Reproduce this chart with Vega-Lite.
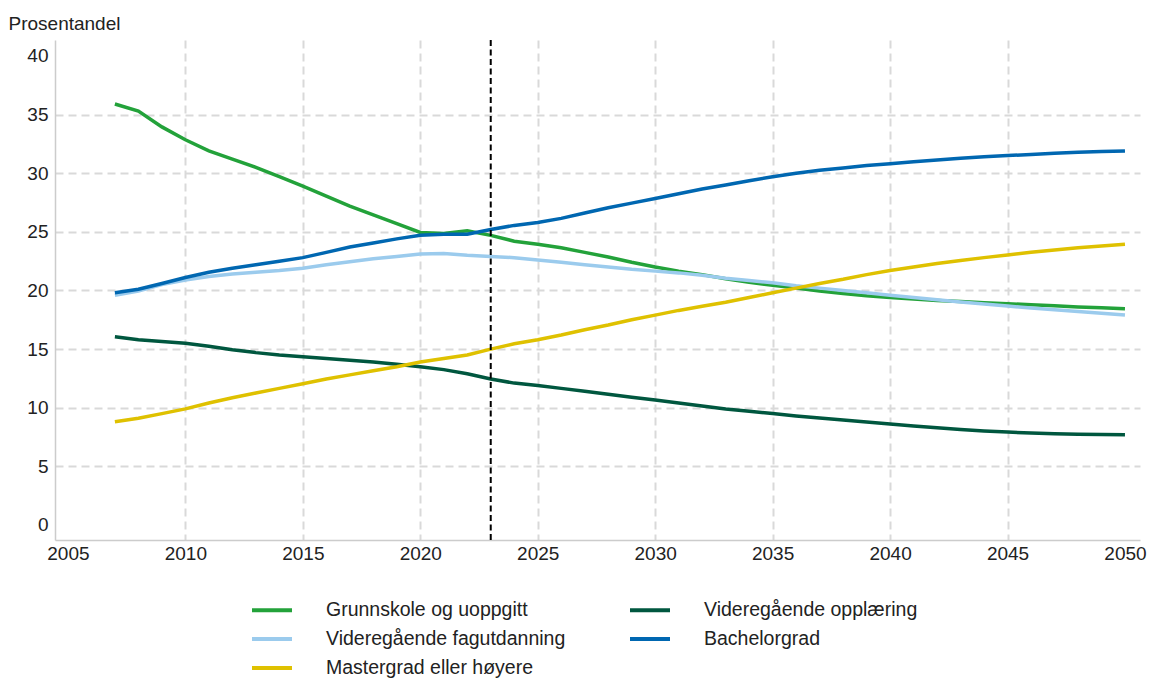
{
  "$schema": "https://vega.github.io/schema/vega-lite/v6.json",
  "width": 1085,
  "height": 500,
  "autosize": {"type": "none"},
  "padding": {"left": 55, "top": 40, "right": 9, "bottom": 139},
  "background": "white",
  "config": {
    "view": {"stroke": null},
    "font": "Liberation Sans",
    "axis": {"labelFont": "Liberation Sans", "labelFontSize": 19, "labelColor": "#222", "domainColor": "#cccccc", "domainWidth": 1.5, "ticks": false, "gridColor": "#d9d9d9", "gridWidth": 2, "gridDash": [8, 5]},
    "legend": {"labelFont": "Liberation Sans", "labelFontSize": 19.5, "labelColor": "#222"}
  },
  "datasets": {
    "rows": [
      {"year": 2007, "Grunnskole og uoppgitt": 35.9, "Videregående opplæring": 16.05, "Videregående fagutdanning": 19.6, "Bachelorgrad": 19.8, "Mastergrad eller høyere": 8.8},
      {"year": 2008, "Grunnskole og uoppgitt": 35.3, "Videregående opplæring": 15.8, "Videregående fagutdanning": 19.95, "Bachelorgrad": 20.1, "Mastergrad eller høyere": 9.1},
      {"year": 2009, "Grunnskole og uoppgitt": 33.95, "Videregående opplæring": 15.65, "Videregående fagutdanning": 20.5, "Bachelorgrad": 20.6, "Mastergrad eller høyere": 9.5},
      {"year": 2010, "Grunnskole og uoppgitt": 32.85, "Videregående opplæring": 15.5, "Videregående fagutdanning": 20.9, "Bachelorgrad": 21.1, "Mastergrad eller høyere": 9.9},
      {"year": 2011, "Grunnskole og uoppgitt": 31.9, "Videregående opplæring": 15.25, "Videregående fagutdanning": 21.2, "Bachelorgrad": 21.55, "Mastergrad eller høyere": 10.4},
      {"year": 2012, "Grunnskole og uoppgitt": 31.2, "Videregående opplæring": 14.95, "Videregående fagutdanning": 21.4, "Bachelorgrad": 21.9, "Mastergrad eller høyere": 10.85},
      {"year": 2013, "Grunnskole og uoppgitt": 30.5, "Videregående opplæring": 14.7, "Videregående fagutdanning": 21.55, "Bachelorgrad": 22.2, "Mastergrad eller høyere": 11.25},
      {"year": 2014, "Grunnskole og uoppgitt": 29.7, "Videregående opplæring": 14.5, "Videregående fagutdanning": 21.7, "Bachelorgrad": 22.5, "Mastergrad eller høyere": 11.65},
      {"year": 2015, "Grunnskole og uoppgitt": 28.9, "Videregående opplæring": 14.35, "Videregående fagutdanning": 21.9, "Bachelorgrad": 22.8, "Mastergrad eller høyere": 12.05},
      {"year": 2016, "Grunnskole og uoppgitt": 28.05, "Videregående opplæring": 14.2, "Videregående fagutdanning": 22.2, "Bachelorgrad": 23.25, "Mastergrad eller høyere": 12.45},
      {"year": 2017, "Grunnskole og uoppgitt": 27.2, "Videregående opplæring": 14.05, "Videregående fagutdanning": 22.45, "Bachelorgrad": 23.7, "Mastergrad eller høyere": 12.8},
      {"year": 2018, "Grunnskole og uoppgitt": 26.45, "Videregående opplæring": 13.9, "Videregående fagutdanning": 22.7, "Bachelorgrad": 24.05, "Mastergrad eller høyere": 13.15},
      {"year": 2019, "Grunnskole og uoppgitt": 25.7, "Videregående opplæring": 13.7, "Videregående fagutdanning": 22.9, "Bachelorgrad": 24.4, "Mastergrad eller høyere": 13.5},
      {"year": 2020, "Grunnskole og uoppgitt": 24.95, "Videregående opplæring": 13.5, "Videregående fagutdanning": 23.1, "Bachelorgrad": 24.7, "Mastergrad eller høyere": 13.9},
      {"year": 2021, "Grunnskole og uoppgitt": 24.85, "Videregående opplæring": 13.25, "Videregående fagutdanning": 23.15, "Bachelorgrad": 24.8, "Mastergrad eller høyere": 14.2},
      {"year": 2022, "Grunnskole og uoppgitt": 25.1, "Videregående opplæring": 12.9, "Videregående fagutdanning": 23.0, "Bachelorgrad": 24.8, "Mastergrad eller høyere": 14.5},
      {"year": 2023, "Grunnskole og uoppgitt": 24.7, "Videregående opplæring": 12.45, "Videregående fagutdanning": 22.9, "Bachelorgrad": 25.2, "Mastergrad eller høyere": 15.0},
      {"year": 2024, "Grunnskole og uoppgitt": 24.2, "Videregående opplæring": 12.1, "Videregående fagutdanning": 22.8, "Bachelorgrad": 25.55, "Mastergrad eller høyere": 15.45},
      {"year": 2025, "Grunnskole og uoppgitt": 23.95, "Videregående opplæring": 11.9, "Videregående fagutdanning": 22.6, "Bachelorgrad": 25.8, "Mastergrad eller høyere": 15.8},
      {"year": 2026, "Grunnskole og uoppgitt": 23.65, "Videregående opplæring": 11.65, "Videregående fagutdanning": 22.4, "Bachelorgrad": 26.15, "Mastergrad eller høyere": 16.2},
      {"year": 2027, "Grunnskole og uoppgitt": 23.25, "Videregående opplæring": 11.4, "Videregående fagutdanning": 22.2, "Bachelorgrad": 26.6, "Mastergrad eller høyere": 16.65},
      {"year": 2028, "Grunnskole og uoppgitt": 22.85, "Videregående opplæring": 11.15, "Videregående fagutdanning": 22.0, "Bachelorgrad": 27.05, "Mastergrad eller høyere": 17.05},
      {"year": 2029, "Grunnskole og uoppgitt": 22.4, "Videregående opplæring": 10.9, "Videregående fagutdanning": 21.8, "Bachelorgrad": 27.45, "Mastergrad eller høyere": 17.5},
      {"year": 2030, "Grunnskole og uoppgitt": 22.0, "Videregående opplæring": 10.65, "Videregående fagutdanning": 21.65, "Bachelorgrad": 27.85, "Mastergrad eller høyere": 17.9},
      {"year": 2031, "Grunnskole og uoppgitt": 21.65, "Videregående opplæring": 10.4, "Videregående fagutdanning": 21.5, "Bachelorgrad": 28.25, "Mastergrad eller høyere": 18.3},
      {"year": 2032, "Grunnskole og uoppgitt": 21.35, "Videregående opplæring": 10.15, "Videregående fagutdanning": 21.3, "Bachelorgrad": 28.65, "Mastergrad eller høyere": 18.65},
      {"year": 2033, "Grunnskole og uoppgitt": 21.0, "Videregående opplæring": 9.9, "Videregående fagutdanning": 21.05, "Bachelorgrad": 29.0, "Mastergrad eller høyere": 19.0},
      {"year": 2034, "Grunnskole og uoppgitt": 20.7, "Videregående opplæring": 9.7, "Videregående fagutdanning": 20.85, "Bachelorgrad": 29.35, "Mastergrad eller høyere": 19.4},
      {"year": 2035, "Grunnskole og uoppgitt": 20.45, "Videregående opplæring": 9.5, "Videregående fagutdanning": 20.65, "Bachelorgrad": 29.7, "Mastergrad eller høyere": 19.8},
      {"year": 2036, "Grunnskole og uoppgitt": 20.2, "Videregående opplæring": 9.3, "Videregående fagutdanning": 20.4, "Bachelorgrad": 30.0, "Mastergrad eller høyere": 20.2},
      {"year": 2037, "Grunnskole og uoppgitt": 19.95, "Videregående opplæring": 9.12, "Videregående fagutdanning": 20.2, "Bachelorgrad": 30.25, "Mastergrad eller høyere": 20.6},
      {"year": 2038, "Grunnskole og uoppgitt": 19.75, "Videregående opplæring": 8.95, "Videregående fagutdanning": 20.0, "Bachelorgrad": 30.45, "Mastergrad eller høyere": 20.95},
      {"year": 2039, "Grunnskole og uoppgitt": 19.55, "Videregående opplæring": 8.78, "Videregående fagutdanning": 19.8, "Bachelorgrad": 30.65, "Mastergrad eller høyere": 21.35},
      {"year": 2040, "Grunnskole og uoppgitt": 19.4, "Videregående opplæring": 8.62, "Videregående fagutdanning": 19.6, "Bachelorgrad": 30.8, "Mastergrad eller høyere": 21.7},
      {"year": 2041, "Grunnskole og uoppgitt": 19.27, "Videregående opplæring": 8.45, "Videregående fagutdanning": 19.4, "Bachelorgrad": 30.97, "Mastergrad eller høyere": 22.0},
      {"year": 2042, "Grunnskole og uoppgitt": 19.15, "Videregående opplæring": 8.3, "Videregående fagutdanning": 19.2, "Bachelorgrad": 31.12, "Mastergrad eller høyere": 22.3},
      {"year": 2043, "Grunnskole og uoppgitt": 19.05, "Videregående opplæring": 8.15, "Videregående fagutdanning": 19.02, "Bachelorgrad": 31.27, "Mastergrad eller høyere": 22.55},
      {"year": 2044, "Grunnskole og uoppgitt": 18.95, "Videregående opplæring": 8.02, "Videregående fagutdanning": 18.85, "Bachelorgrad": 31.4, "Mastergrad eller høyere": 22.8},
      {"year": 2045, "Grunnskole og uoppgitt": 18.87, "Videregående opplæring": 7.92, "Videregående fagutdanning": 18.67, "Bachelorgrad": 31.5, "Mastergrad eller høyere": 23.02},
      {"year": 2046, "Grunnskole og uoppgitt": 18.78, "Videregående opplæring": 7.84, "Videregående fagutdanning": 18.5, "Bachelorgrad": 31.6, "Mastergrad eller høyere": 23.25},
      {"year": 2047, "Grunnskole og uoppgitt": 18.7, "Videregående opplæring": 7.78, "Videregående fagutdanning": 18.35, "Bachelorgrad": 31.7, "Mastergrad eller høyere": 23.45},
      {"year": 2048, "Grunnskole og uoppgitt": 18.6, "Videregående opplæring": 7.74, "Videregående fagutdanning": 18.2, "Bachelorgrad": 31.78, "Mastergrad eller høyere": 23.65},
      {"year": 2049, "Grunnskole og uoppgitt": 18.52, "Videregående opplæring": 7.71, "Videregående fagutdanning": 18.05, "Bachelorgrad": 31.85, "Mastergrad eller høyere": 23.8},
      {"year": 2050, "Grunnskole og uoppgitt": 18.45, "Videregående opplæring": 7.7, "Videregående fagutdanning": 17.9, "Bachelorgrad": 31.9, "Mastergrad eller høyere": 23.95}
    ],
    "marker": [{"year": 2023}]
  },
  "layer": [
    {
      "data": {"name": "rows"},
      "transform": [{"fold": ["Grunnskole og uoppgitt", "Videregående opplæring", "Videregående fagutdanning", "Bachelorgrad", "Mastergrad eller høyere"], "as": ["kategori", "andel"]}],
      "mark": {"type": "line", "strokeWidth": 3.5},
      "encoding": {
        "x": {"field": "year", "type": "quantitative", "scale": {"domain": [2004.45, 2050.64], "nice": false, "zero": false},
          "axis": {"values": [2005, 2010, 2015, 2020, 2025, 2030, 2035, 2040, 2045, 2050], "format": "d", "title": null, "labelPadding": 4, "labelFlush": false,
            "gridOpacity": {"condition": {"test": "datum.value == 2005 || datum.value == 2050", "value": 0}, "value": 1}}},
        "y": {"field": "andel", "type": "quantitative", "scale": {"domain": [-1.28, 41.36], "nice": false, "zero": false},
          "axis": {"values": [0, 5, 10, 15, 20, 25, 30, 35, 40], "title": "Prosentandel", "titleAngle": 0, "titleAlign": "left", "titleBaseline": "alphabetic", "titleX": -47, "titleY": -11, "titleFont": "Liberation Sans", "titleFontSize": 19, "titleFontWeight": "normal", "titleColor": "#222", "labelPadding": 7,
            "gridOpacity": {"condition": {"test": "datum.value == 0 || datum.value == 40", "value": 0}, "value": 1}}},
        "color": {"field": "kategori", "type": "nominal",
          "scale": {"domain": ["Grunnskole og uoppgitt", "Videregående opplæring", "Videregående fagutdanning", "Bachelorgrad", "Mastergrad eller høyere"],
            "range": ["#23a23a", "#00573f", "#9bcbed", "#0067b1", "#dfc100"]},
          "legend": {"title": null, "orient": "none", "legendX": 205, "legendY": 558, "columns": 2, "direction": "horizontal", "symbolType": "M-2,0H2", "symbolSize": 400, "symbolStrokeWidth": 4, "labelOffset": 42, "columnPadding": 56, "rowPadding": 7, "labelLimit": 400}}
      }
    },
    {
      "data": {"name": "marker"},
      "mark": {"type": "rule", "color": "black", "strokeWidth": 2, "strokeDash": [6, 3.5]},
      "encoding": {"x": {"field": "year", "type": "quantitative"}}
    }
  ]
}
